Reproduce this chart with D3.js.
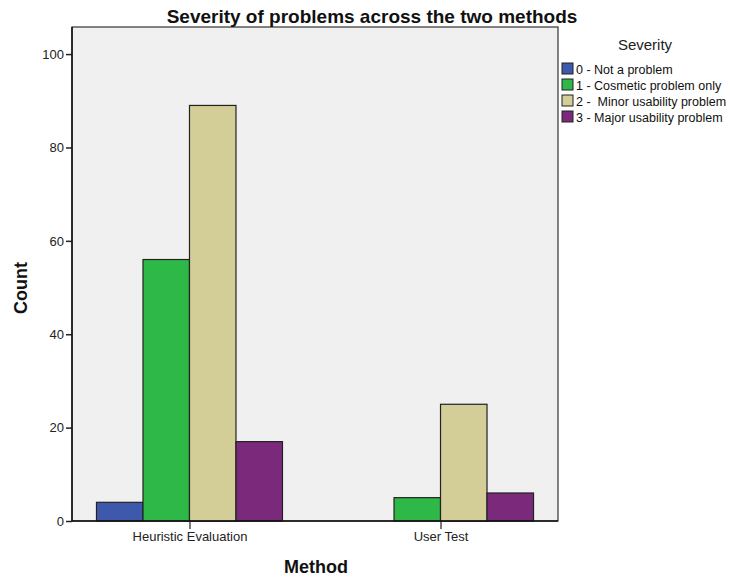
<!DOCTYPE html>
<html><head><meta charset="utf-8">
<script src="https://cdn.jsdelivr.net/npm/d3@7"></script>
<style>body{margin:0;background:#fff}svg{font-family:Arial,"Liberation Sans",sans-serif}</style>
</head><body>
<svg id="c" width="730" height="578"></svg>
<script>
const methods = ["Heuristic Evaluation", "User Test"];
const severities = ["0 - Not a problem", "1 - Cosmetic problem only", "2 -  Minor usability problem", "3 - Major usability problem"];
const heuristicCounts = [4, 56, 89, 17];
const userTestCounts = [0, 5, 25, 6];
const yTicks = [0, 20, 40, 60, 80, 100];
const colors = ["#3e58ac", "#2eb848", "#d3ce97", "#7b2a7b"];

const data = [heuristicCounts, userTestCounts];
const svg = d3.select("#c");
const L = 72, R = 558, T = 27, B = 521;

const x = d3.scalePoint().domain(methods).range([L, R]).padding(0.468);
const x1 = d3.scaleBand().domain(severities).range([-93, 93]);
const y = d3.scaleLinear().domain([0, 105.8]).range([B, T]);

svg.append("rect").attr("x", L).attr("y", T).attr("width", R - L).attr("height", B - T)
  .attr("fill", "#f0f0f0").attr("stroke", "#333").attr("stroke-width", 1.2);

methods.forEach((m, i) => {
  const g = svg.append("g").attr("transform", `translate(${x(m)},0)`);
  severities.forEach((s, j) => {
    const v = data[i][j];
    if (v <= 0) return;
    g.append("rect").attr("x", x1(s)).attr("width", x1.bandwidth())
      .attr("y", y(v)).attr("height", y(0) - y(v))
      .attr("fill", colors[j]).attr("stroke", "#222").attr("stroke-width", 1.2);
  });
});

const ya = svg.append("g").attr("transform", `translate(${L},0)`)
  .call(d3.axisLeft(y).tickValues(yTicks).tickSize(6).tickPadding(2).tickSizeOuter(0));
ya.select(".domain").remove();
ya.selectAll("line").attr("stroke", "#222").attr("stroke-width", 1.5);
ya.selectAll("text").attr("font-size", 13).attr("fill", "#222").style("font-family", "Arial,'Liberation Sans',sans-serif");

const xa = svg.append("g").attr("transform", `translate(0,${B})`)
  .call(d3.axisBottom(x).tickSize(8).tickPadding(3).tickSizeOuter(0));
xa.select(".domain").remove();
xa.selectAll("line").attr("stroke", "#222").attr("stroke-width", 1.2);
xa.selectAll("text").attr("font-size", 13).attr("fill", "#222").style("font-family", "Arial,'Liberation Sans',sans-serif");

svg.append("line").attr("x1", L).attr("x2", L).attr("y1", T).attr("y2", B).attr("stroke", "#111").attr("stroke-width", 1.5);
svg.append("line").attr("x1", L).attr("x2", R).attr("y1", B).attr("y2", B).attr("stroke", "#111").attr("stroke-width", 1.5);

svg.append("text").attr("x", 372).attr("y", 23).attr("text-anchor", "middle")
  .attr("font-size", 19).attr("font-weight", "bold").attr("fill", "#111").text("Severity of problems across the two methods");
svg.append("text").attr("x", 316).attr("y", 573).attr("text-anchor", "middle")
  .attr("font-size", 18).attr("font-weight", "bold").attr("fill", "#111").text("Method");
svg.append("text").attr("transform", "translate(27,288) rotate(-90)").attr("text-anchor", "middle")
  .attr("font-size", 18).attr("font-weight", "bold").attr("fill", "#111").text("Count");

const lg = svg.append("g");
lg.append("text").attr("x", 645).attr("y", 50).attr("text-anchor", "middle").attr("font-size", 15).attr("fill", "#222").text("Severity");
severities.forEach((s, j) => {
  const yy = 63 + j * 16;
  lg.append("rect").attr("x", 562).attr("y", yy).attr("width", 11).attr("height", 11)
    .attr("fill", colors[j]).attr("stroke", "#222").attr("stroke-width", 1);
  lg.append("text").attr("x", 576).attr("y", yy + 10.5).attr("font-size", 12.5).attr("fill", "#111").text(s)
    .style("white-space", "pre").attr("xml:space", "preserve");
});
</script>
</body></html>
